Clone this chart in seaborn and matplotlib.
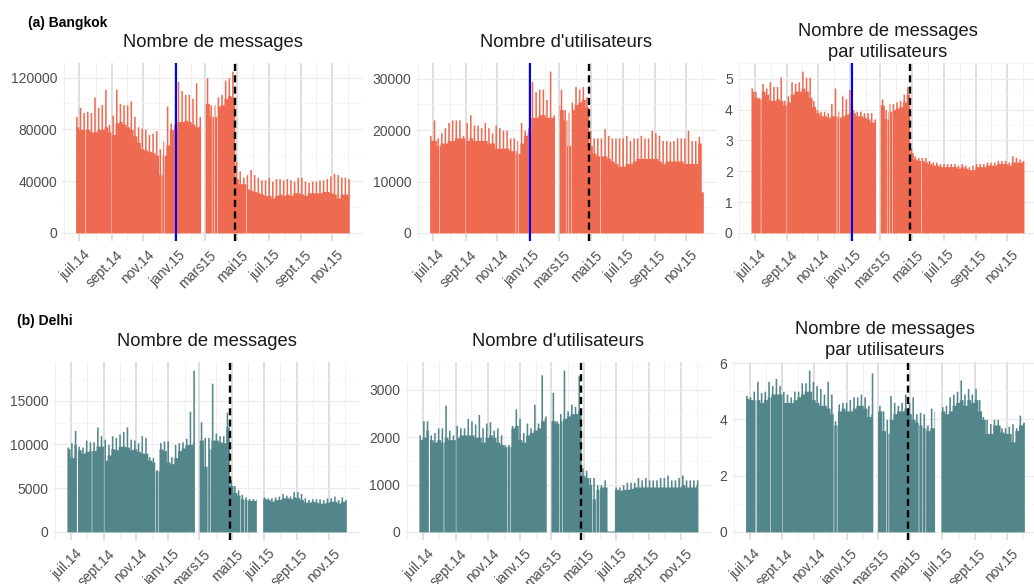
import numpy as np
import pandas as pd
import matplotlib
matplotlib.use("Agg")
import matplotlib.pyplot as plt
import matplotlib.dates as mdates
from matplotlib.ticker import MultipleLocator, FuncFormatter
from matplotlib.transforms import ScaledTranslation
import seaborn as sns

# values, one per week (weeks start monday 2014-06-23)
# peak = tallest days of the week, base = level of the other days
week_start = pd.date_range("2014-06-23", periods=76, freq="7D")
first_day = "2014-06-24"
last_day = "2015-12-03"

bkk_msg_peak = [90000, 97000, 93000, 94000, 93000, 105000, 97000, 99000, 111000, 84000,
                91000, 111000, 100000, 99000, 99000, 102000, 90000, 82000, 81000, 80000,
                76000, 77000, 79000, 65000, 71000, 98000, 85000, 84000, 117000, 110000,
                107000, 107000, 104000, 116000, 90000, 108000, 120000, 99000, 99000, 105000,
                107000, 118000, 120000, 125000, 55000, 48000, 43000, 45000, 49000, 45000,
                43000, 41000, 41000, 43000, 40000, 42000, 42000, 41000, 42000, 41000,
                40000, 43000, 43000, 40000, 39000, 40000, 40000, 41000, 41000, 42000,
                44000, 46000, 45000, 43000, 43000, 42000]
bkk_msg_base = [82000, 80000, 80000, 80000, 78000, 78000, 80000, 80000, 82000, 78000,
                76000, 85000, 86000, 84000, 82000, 80000, 75000, 70000, 65000, 64000,
                63000, 62000, 60000, 45000, 60000, 68000, 80000, 80000, 86000, 86000,
                87000, 86000, 84000, 82000, 82000, 100000, 100000, 90000, 90000, 98000,
                99000, 104000, 106000, 105000, 42000, 38000, 38000, 34000, 33000, 32000,
                31000, 30000, 29000, 29000, 27000, 29000, 30000, 29000, 30000, 29000,
                31000, 31000, 30000, 29000, 31000, 31000, 31000, 31000, 32000, 32000,
                31000, 30000, 27000, 30000, 30000, 30000]

bkk_usr_peak = [19000, 22000, 18500, 19500, 20500, 21500, 22000, 22000, 22000, 19000,
                21500, 23000, 21000, 21000, 20500, 21500, 20500, 19500, 21000, 20500,
                20000, 20000, 18500, 18500, 18000, 21500, 20000, 20500, 29500, 27500,
                28000, 28000, 26000, 31500, 23000, 27000, 28000, 24000, 23500, 25500,
                28500, 28000, 28500, 26500, 20000, 18500, 18500, 18500, 20300, 19000,
                18500, 18500, 18500, 18500, 19000, 18000, 18500, 18500, 19000, 18500,
                18500, 20000, 19500, 19000, 18000, 18000, 17800, 18000, 18500, 18500,
                18500, 20000, 18000, 18000, 18800, 8000]
bkk_usr_base = [18000, 18000, 17000, 17500, 17500, 18000, 18000, 18500, 18500, 18500,
                18000, 18500, 18000, 18000, 18000, 18000, 17500, 17500, 16500, 16500,
                16500, 16500, 16000, 16000, 15500, 17500, 19000, 19500, 22500, 22500,
                23000, 23000, 22500, 22500, 22500, 25000, 24000, 22000, 17000, 24000,
                25000, 25500, 26000, 24500, 17000, 15500, 15000, 15000, 15000, 14500,
                14000, 13500, 13000, 13000, 13500, 13500, 14000, 14500, 14500, 14500,
                14500, 14500, 14500, 14000, 13500, 14000, 14000, 14000, 14000, 14000,
                13500, 13500, 13500, 13500, 17500, 8000]

bkk_ratio_peak = [4.7, 4.6, 4.4, 4.85, 4.7, 4.9, 4.75, 4.75, 5.05, 4.3,
                  4.45, 4.9, 4.85, 4.9, 5.25, 5.05, 5.05, 4.3, 4.0, 3.95,
                  3.95, 3.9, 4.2, 4.7, 3.95, 4.45, 4.35, 4.65, 4.0, 3.95,
                  3.95, 3.9, 3.9, 3.9, 3.7, 4.2, 4.35, 4.0, 4.2, 4.2,
                  4.25, 4.3, 4.5, 4.75, 2.75, 2.5, 2.45, 2.45, 2.45, 2.35,
                  2.3, 2.3, 2.25, 2.25, 2.25, 2.25, 2.25, 2.2, 2.25, 2.2,
                  2.15, 2.2, 2.25, 2.25, 2.25, 2.3, 2.3, 2.3, 2.35, 2.35,
                  2.35, 2.3, 2.5, 2.45, 2.4, 2.35]
bkk_ratio_base = [4.6, 4.4, 4.35, 4.6, 4.5, 4.3, 4.3, 4.35, 4.3, 4.15,
                  4.25, 4.5, 4.6, 4.6, 4.7, 4.6, 4.4, 4.1, 3.9, 3.8,
                  3.8, 3.75, 3.8, 3.8, 3.75, 3.8, 3.85, 3.9, 3.9, 3.8,
                  3.8, 3.75, 3.7, 3.6, 3.6, 4.15, 4.15, 3.7, 3.95, 4.0,
                  4.05, 4.1, 4.25, 4.5, 2.6, 2.4, 2.35, 2.35, 2.3, 2.25,
                  2.2, 2.2, 2.15, 2.15, 2.15, 2.15, 2.15, 2.1, 2.15, 2.1,
                  2.05, 2.05, 2.15, 2.15, 2.15, 2.2, 2.2, 2.2, 2.25, 2.25,
                  2.25, 2.2, 2.3, 2.3, 2.3, 2.3]

del_msg_peak = [9700, 10200, 11600, 9800, 9700, 10500, 10300, 10300, 12000, 11000,
                10600, 10000, 11000, 10800, 11200, 11500, 12000, 10600, 10500, 10200,
                11000, 10800, 8600, 8500, 7100, 10200, 10400, 10400, 8600, 10000,
                10200, 10300, 10700, 13800, 18500, 10500, 12600, 10800, 10800, 17000,
                11300, 11000, 11000, 13700, 6000, 5300, 4800, 4300, 4000, 3800,
                3800, 3800, 3900, 4000, 3900, 3900, 4000, 4100, 4400, 4200,
                4100, 4600, 4600, 4400, 3900, 3700, 3800, 3800, 3800, 3700,
                3900, 3900, 4100, 3700, 4000, 3700]
del_msg_base = [9500, 8500, 10000, 9400, 9000, 9200, 9300, 9300, 9800, 9800,
                8200, 8800, 9500, 9400, 9800, 9800, 9700, 9400, 9500, 9200,
                9000, 9000, 8200, 8000, 7000, 9500, 9300, 8000, 7800, 8500,
                9300, 9600, 10000, 10000, 10300, 10500, 10500, 7500, 9500, 10500,
                10500, 10300, 10200, 12000, 5300, 4500, 4200, 3800, 3700, 3600,
                3600, 3600, 3700, 3800, 3700, 3500, 3700, 3700, 3900, 3900,
                3800, 4000, 3900, 3700, 3400, 3400, 3500, 3400, 3300, 3300,
                3400, 3500, 3500, 3300, 3500, 3500]

del_usr_peak = [2050, 2350, 2350, 2050, 2100, 2200, 2200, 2680, 2150, 2050,
                2250, 2200, 2200, 2400, 2350, 2280, 2480, 2200, 2300, 2330,
                2150, 2200, 2050, 1850, 1850, 2250, 2600, 2400, 2100, 2300,
                2200, 2700, 2300, 3320, 2450, 2400, 2950, 2350, 2500, 3420,
                2560, 2700, 2650, 3300, 1350, 1300, 1150, 1150, 1000, 1000,
                1100, 20, 20, 950, 950, 1000, 1050, 1050, 1050, 1150,
                1100, 1150, 1100, 1100, 1100, 1150, 1150, 1200, 1100, 1100,
                1150, 1200, 1100, 1100, 1100, 1100]
del_usr_base = [1950, 2000, 2150, 1950, 1900, 1950, 1900, 2000, 1950, 1950,
                2000, 2050, 2050, 2050, 2050, 2000, 2000, 1900, 2000, 2050,
                2000, 1900, 1850, 1800, 1800, 2200, 2250, 1950, 1900, 2050,
                2100, 2150, 2200, 2350, 2400, 2350, 2350, 2300, 2350, 2400,
                2450, 2500, 2500, 2550, 1200, 1150, 1000, 700, 900, 950,
                950, 20, 20, 900, 880, 900, 900, 920, 950, 950,
                950, 950, 950, 950, 950, 950, 950, 950, 950, 950,
                950, 1000, 950, 950, 950, 1000]

del_ratio_peak = [4.85, 4.8, 5.0, 5.35, 4.95, 5.0, 5.35, 5.2, 5.45, 5.2,
                  5.0, 4.9, 4.8, 5.0, 5.0, 5.3, 5.3, 5.75, 5.35, 5.2,
                  5.1, 4.9, 5.35, 4.9, 3.95, 4.55, 4.6, 4.6, 4.7, 4.8,
                  4.8, 4.9, 4.8, 4.5, 5.65, 4.5, 4.5, 4.3, 4.0, 4.85,
                  4.6, 4.5, 4.6, 4.9, 4.6, 4.8, 4.2, 4.25, 4.2, 3.8,
                  4.4, 4.3, 4.4, 4.45, 4.5, 4.8, 4.9, 5.0, 5.4, 4.9,
                  5.1, 4.9, 5.1, 4.7, 4.1, 4.0, 3.85, 4.0, 4.0, 3.7,
                  3.7, 3.75, 3.85, 3.7, 4.15, 3.9]
del_ratio_base = [4.75, 4.7, 4.7, 4.7, 4.6, 4.7, 4.8, 4.9, 4.9, 4.9,
                  4.6, 4.6, 4.6, 4.7, 4.8, 4.9, 5.0, 5.0, 4.7, 4.6,
                  4.5, 4.5, 4.4, 4.2, 3.8, 4.3, 4.4, 4.3, 4.3, 4.4,
                  4.5, 4.5, 4.4, 4.1, 4.2, 4.3, 4.3, 3.6, 3.5, 4.0,
                  4.2, 4.3, 4.3, 4.4, 4.2, 4.0, 3.9, 3.8, 3.7, 3.6,
                  3.7, 3.7, 4.3, 4.3, 4.2, 4.3, 4.5, 4.6, 4.7, 4.5,
                  4.7, 4.6, 4.7, 4.3, 4.0, 3.5, 3.5, 3.8, 3.8, 3.55,
                  3.5, 3.5, 3.2, 3.6, 3.8, 3.85]

# days without data
bkk_gaps = [("2014-07-12", "2014-07-12"), ("2014-08-31", "2014-08-31"),
            ("2014-12-06", "2014-12-06"), ("2014-12-11", "2014-12-11"),
            ("2015-02-20", "2015-02-28"), ("2015-03-13", "2015-03-13"),
            ("2015-03-18", "2015-03-18"), ("2015-03-23", "2015-03-23"),
            ("2015-05-18", "2015-05-18")]
del_gaps = [("2014-07-12", "2014-07-13"), ("2014-08-09", "2014-08-09"),
            ("2014-09-01", "2014-09-01"), ("2014-12-07", "2014-12-07"),
            ("2014-12-13", "2014-12-13"), ("2015-02-20", "2015-02-28"),
            ("2015-03-16", "2015-03-16"), ("2015-03-21", "2015-03-21"),
            ("2015-05-17", "2015-05-17"), ("2015-05-24", "2015-05-24"),
            ("2015-05-30", "2015-05-30")]
del_june_gap = [("2015-06-17", "2015-06-28")]

blue_date = "2015-01-04"
dashed_date = "2015-04-27"

month_abbr = {1: "janv.", 3: "mars", 5: "mai", 7: "juil.", 9: "sept.", 11: "nov."}

bkk_color = "#EE6A50"
del_color = "#53868B"

sns.set_theme(style="whitegrid")
plt.rcParams["font.family"] = ["Liberation Sans", "DejaVu Sans"]

W, H = 1034, 584
fig = plt.figure(figsize=(W / 100, H / 100), dpi=100)

days = pd.date_range(first_day, last_day, freq="D")
week_idx = ((days - week_start[0]).days // 7).to_numpy()
peak_day = days.dayofweek.isin([1, 2, 3])
bin_lo = mdates.date2num(pd.Timestamp(first_day)) - 0.5
bin_hi = mdates.date2num(pd.Timestamp(last_day)) + 0.5
span = (pd.Timestamp(last_day) - pd.Timestamp(first_day)).days
x_lo = mdates.date2num(pd.Timestamp(first_day)) - 0.05 * span
x_hi = mdates.date2num(pd.Timestamp(last_day)) + 0.05 * span


def daily_table(peak, base, gaps):
    value = np.where(peak_day, np.asarray(peak, float)[week_idx], np.asarray(base, float)[week_idx])
    keep = np.ones(len(days), dtype=bool)
    for start, end in gaps:
        keep &= ~((days >= start) & (days <= end))
    return pd.DataFrame({"day": mdates.date2num(days[keep]), "value": value[keep]})


def month_label(v, pos):
    d = mdates.num2date(v + 0.5)
    return f"{month_abbr.get(d.month, '')}{d.year % 100:02d}"


# title, peak, base, gaps, y step, colour, blue line, left/top/width (px), title baseline (last line)
panels = [
    ("Nombre de messages", bkk_msg_peak, bkk_msg_base, bkk_gaps, 40000, bkk_color, True, 62.2, 63, 300.5, 46.7),
    ("Nombre d'utilisateurs", bkk_usr_peak, bkk_usr_base, bkk_gaps, 10000, bkk_color, True, 416.2, 63, 300.5, 46.7),
    ("Nombre de messages\npar utilisateurs", bkk_ratio_peak, bkk_ratio_base, bkk_gaps, 1, bkk_color, True, 737.6, 63, 299.7, 56.7),
    ("Nombre de messages", del_msg_peak, del_msg_base, del_gaps + del_june_gap, 5000, del_color, False, 53.2, 362, 306.8, 345.7),
    ("Nombre d'utilisateurs", del_usr_peak, del_usr_base, del_gaps, 1000, del_color, False, 405.2, 362, 306.4, 345.7),
    ("Nombre de messages\npar utilisateurs", del_ratio_peak, del_ratio_base, del_gaps + del_june_gap, 2, del_color, False, 731.9, 362, 306.1, 355.0),
]
panel_h = 178
label_shift = ScaledTranslation(4 / 100, 0, fig.dpi_scale_trans)

for title, peak, base, gaps, ystep, color, blue, left, top, width, tbase in panels:
    ax = fig.add_axes([left / W, 1 - (top + panel_h) / H, width / W, panel_h / H])
    tbl = daily_table(peak, base, gaps)
    sns.histplot(data=tbl, x="day", weights="value", binwidth=1, binrange=(bin_lo, bin_hi),
                 element="step", fill=True, color=color, alpha=1, linewidth=0, ax=ax)
    ymax = max(peak)
    ax.set_xlim(x_lo, x_hi)
    ax.set_ylim(-0.05 * ymax, 1.05 * ymax)
    ax.set(xlabel="", ylabel="")

    ax.xaxis.set_major_locator(mdates.MonthLocator(bymonth=list(month_abbr)))
    ax.xaxis.set_minor_locator(mdates.MonthLocator())
    ax.xaxis.set_major_formatter(FuncFormatter(month_label))
    ax.yaxis.set_major_locator(MultipleLocator(ystep))
    ax.yaxis.set_minor_locator(MultipleLocator(ystep / 2))
    ax.yaxis.set_major_formatter(FuncFormatter(lambda v, p: f"{v:g}"))

    ax.set_axisbelow(True)
    ax.grid(False)
    ax.grid(which="major", axis="x", color="#d6d6d6", linewidth=1.1)
    ax.grid(which="minor", axis="x", color="#eeeeee", linewidth=0.6)
    ax.grid(which="major", axis="y", color="#ebebeb", linewidth=0.8)
    ax.grid(which="minor", axis="y", color="#f4f4f4", linewidth=0.5)
    for s in ax.spines.values():
        s.set_visible(False)
    ax.tick_params(which="both", length=0, labelsize=10, labelcolor="#4d4d4d")
    ax.tick_params(axis="y", pad=3.5)
    ax.tick_params(axis="x", pad=5, labelrotation=45)

    if blue:
        ax.axvline(mdates.date2num(pd.Timestamp(blue_date)), color="blue", linewidth=1.5, zorder=3)
    ax.axvline(mdates.date2num(pd.Timestamp(dashed_date)), color="black", linewidth=1.7,
               linestyle=(0, (3, 1.8)), zorder=3)

    for lab in ax.get_xticklabels():
        lab.set_ha("right")
        lab.set_va("top")
        lab.set_rotation_mode("anchor")
        lab.set_transform(lab.get_transform() + label_shift)

    fig.text((left + width / 2) / W, 1 - tbase / H, title, ha="center", va="baseline",
             fontsize=13.2, color="#1a1a1a", linespacing=1.3)

fig.text(28 / W, 1 - 27 / H, "(a) Bangkok", fontsize=10, fontweight="bold", va="baseline", color="black")
fig.text(17 / W, 1 - 325 / H, "(b) Delhi", fontsize=10, fontweight="bold", va="baseline", color="black")

fig.savefig("out.png", dpi=100)
